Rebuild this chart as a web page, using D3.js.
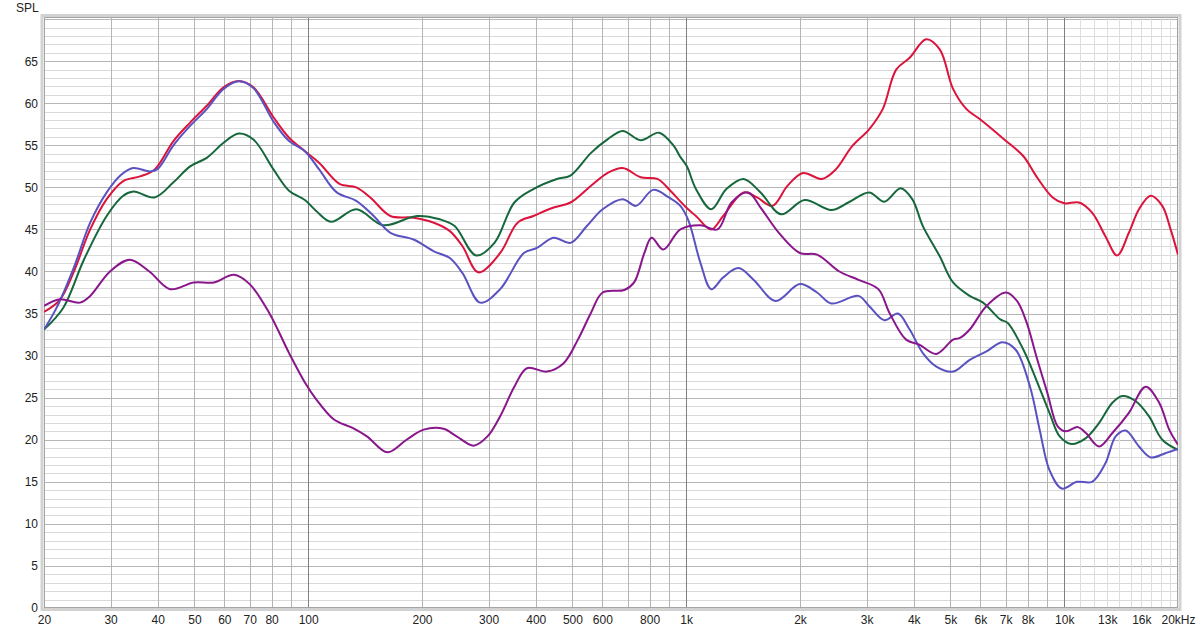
<!DOCTYPE html>
<html>
<head>
<meta charset="utf-8">
<script src="https://cdn.jsdelivr.net/npm/d3@7"></script>
<style>
html,body{margin:0;padding:0;background:#fff;}
svg{display:block;}
text{font-family:"Liberation Sans",Arial,sans-serif;font-size:12px;fill:#222;}
</style>
</head>
<body>
<svg id="chart" width="1200" height="633"></svg>
<script>
// ---------- data ----------
const yTicks = [0,5,10,15,20,25,30,35,40,45,50,55,60,65];
const xTickValues = [20,30,40,50,60,70,80,100,200,300,400,500,600,800,1000,2000,3000,4000,5000,6000,7000,8000,10000,13000,16000,20000];
const xTickLabels = ["20","30","40","50","60","70","80","100","200","300","400","500","600","800","1k","2k","3k","4k","5k","6k","7k","8k","10k","13k","16k","20kHz"];
const xTickGrey = ["13k","16k"];

const redFreq = [20,22,23.9,26.5,29.3,32.4,35.9,39.2,44,48.7,53.9,59.7,65.5,71.6,81,89,98,107,121,134,146,165,190,215,237,256,282,322,358,394,446,494,560,619,679,758,839,908,962,1000,1061,1165,1253,1418,1540,1690,1855,2036,2287,2483,2748,3047,3310,3593,3901,4314,4685,5081,5513,5988,6940,7800,8440,9320,10000,10940,11850,12850,13800,14830,15770,16940,18170,19120,20000];
const redSpl  = [35.2,36.6,39.8,45,48.6,50.75,51.3,52.1,55.5,57.7,59.7,61.9,62.65,61.9,58.3,55.9,54.3,52.9,50.4,50,48.8,46.6,46.4,45.8,44.8,43,39.9,42.2,45.8,46.6,47.6,48.2,50.2,51.7,52.3,51.2,51,49.6,48.4,47.6,46.6,45,46.6,49.4,48.8,47.8,50.2,51.7,51,52.1,54.9,56.9,59.3,64,65.4,67.6,66.4,61.7,59.3,58.1,55.7,53.7,51.3,48.8,48.1,48.2,47,44.2,41.9,44.6,47.4,49,47.8,45,42];

const blueFreq = [20,21.6,24,26.5,29.3,32,34.4,38.2,40,44,48.7,53.9,59.7,65.5,71.6,81,89,98,107,119,134,149,165,190,215,237,256,285,322,372,403,446,494,546,601,679,737,817,900,965,1015,1091,1165,1253,1374,1509,1723,1998,2219,2421,2856,3047,3344,3630,3901,4227,4589,5081,5624,6230,6870,7440,8120,8610,9140,9860,10800,11850,12850,13680,14540,15770,16940,18520,20000];
const blueSpl  = [33.1,35.7,40.5,45.8,49.4,51.5,52.3,51.9,52.2,55,57.3,59.3,61.7,62.6,61.8,57.8,55.5,54.3,52.1,49.4,48.4,46.6,44.6,43.8,42.4,41.6,39.8,36.3,37.9,42.2,42.8,44,43.4,45.4,47.4,48.6,47.8,49.7,48.8,47.8,46,41,37.9,39.3,40.4,39,36.5,38.5,37.5,36.2,37.1,35.9,34.2,35,33.1,30.3,28.7,28.1,29.5,30.5,31.6,30.7,26.3,21.2,16.4,14.2,15,15,17.2,20.4,21.1,19.2,17.9,18.4,18.9];

const greenFreq = [20,22.5,25.5,29.3,32.4,34.5,39.2,44,48.7,53.9,59.7,65.5,71.6,81,89,98,105,115,134,158,194,223,244,278,311,351,394,455,494,560,619,679,758,847,928,962,1004,1061,1165,1277,1418,1573,1783,2056,2421,2684,3047,3344,3692,3963,4227,4685,5081,5624,6099,6775,7080,7800,8440,9140,9730,10440,11410,12370,13410,14260,15440,16750,18170,20000];
const greenSpl  = [33.1,35.7,41.4,46.6,49,49.5,48.8,50.6,52.5,53.5,55.3,56.4,55.7,52.1,49.6,48.5,47.2,45.9,47.4,45.5,46.6,46.2,45.4,41.9,43.4,48.2,49.8,51,51.4,54.1,55.7,56.7,55.6,56.5,54.9,53.7,52.5,49.8,47.4,49.8,51,49.4,46.8,48.5,47.3,48.2,49.4,48.3,49.9,48.6,45.4,41.8,38.7,37.1,36.3,34.3,33.9,30.7,27.1,23.2,20.4,19.5,20.2,22,24.4,25.2,24.6,22.8,20,18.8];

const purpleFreq = [20,22,24.9,26.5,29.9,33.7,38,43.1,49.8,56.3,63.6,70,78.8,89,98,105,117,131,143,162,182,202,228,247,274,298,322,351,379,428,474,517,560,601,686,728,775,810,870,965,1091,1210,1318,1458,1573,1758,1998,2219,2542,2856,3223,3447,3817,4137,4589,5081,5300,5624,6230,7010,7500,7960,8440,9020,9610,10100,10870,11410,12370,13410,14830,16420,17830,18960,20000];
const purpleSpl  = [35.9,36.7,36.3,37.1,40,41.4,40,37.9,38.7,38.7,39.6,38.5,35.1,30.3,26.8,24.8,22.4,21.4,20.4,18.5,20,21.2,21.3,20.4,19.3,20.4,22.8,26.3,28.5,28.1,29.1,31.9,35.1,37.5,37.8,38.7,42.2,44,42.6,45,45.5,45,48.2,49.4,47.6,44.6,42.2,42,40,39,37.9,35.1,31.9,31.3,30.2,31.9,32.1,33.1,35.9,37.5,36.5,33.9,29.9,25.6,21.6,21,21.5,20.8,19.2,20.8,23.2,26.3,24.4,21.2,19.4];

const seriesColors = ["#dc143c","#5a52c0","#16683c","#8a168c"];

// ---------- layout ----------
const svg = d3.select("#chart");
const pL = 44, pR = 1178, pT = 17, pB = 608;
const x = d3.scaleLog().domain([20,20000]).range([pL,pR]);
const y = d3.scaleLinear().domain([0,70.25]).range([pB,pT]);

// frame shadow
svg.append("rect").attr("x",pL-2).attr("y",pT-1.5).attr("width",pR-pL+4).attr("height",pB-pT+3)
  .attr("fill","none").attr("stroke","#d2d2d2").attr("stroke-width",3);
svg.append("rect").attr("x",pL).attr("y",pT).attr("width",pR-pL).attr("height",pB-pT).attr("fill","#fff");

// horizontal grid (1 dB)
const hLines = d3.range(1,71);
svg.append("g").selectAll("line").data(hLines).join("line")
  .attr("x1",pL).attr("x2",pR)
  .attr("y1",d=>Math.round(y(d))+0.5).attr("y2",d=>Math.round(y(d))+0.5)
  .attr("stroke",d=>d%5===0?"#b6b6b6":"#d9d9d9").attr("stroke-width",1);

// vertical grid
const vLines = [];
[10,100,1000].forEach(dec=>{ for(let m=2;m<10;m++){ const f=dec*m; if(f>20) vLines.push({f,type:"minor"}); }});
vLines.push({f:100,type:"major"},{f:1000,type:"major"},{f:10000,type:"major"});
for(let k=11;k<20;k++) vLines.push({f:k*1000,type:"hf"});
svg.append("g").selectAll("line").data(vLines).join("line")
  .attr("x1",d=>Math.round(x(d.f))+0.5).attr("x2",d=>Math.round(x(d.f))+0.5)
  .attr("y1",pT).attr("y2",pB)
  .attr("stroke",d=>d.type==="major"?"#808080":d.type==="hf"?"#dedede":"#b4b4b4").attr("stroke-width",1);

// frame border
svg.append("rect").attr("x",pL+0.5).attr("y",pT+0.5).attr("width",pR-pL-1).attr("height",pB-pT-1)
  .attr("fill","none").attr("stroke","#a4a4a4").attr("stroke-width",1);

// axes labels
const yAxis = d3.axisLeft(y).tickValues(yTicks).tickSize(0).tickPadding(6);
const gy = svg.append("g").attr("transform",`translate(${pL},0)`).call(yAxis);
gy.select(".domain").remove();
gy.selectAll("text").style("font-family","'Liberation Sans',Arial,sans-serif").style("font-size","12px").attr("fill","#222");

const xAxis = d3.axisBottom(x).tickValues(xTickValues).tickSize(0).tickPadding(7)
  .tickFormat((d,i)=>xTickLabels[i]);
const gx = svg.append("g").attr("transform",`translate(0,${pB})`).call(xAxis);
gx.select(".domain").remove();
gx.selectAll("text").style("font-family","'Liberation Sans',Arial,sans-serif").style("font-size","12px")
  .attr("fill",(d,i)=>xTickGrey.includes(xTickLabels[i])?"#a8a8a8":"#222");

svg.append("text").attr("x",16).attr("y",12).text("SPL");

// curves
const series = [
  {f:redFreq,v:redSpl,c:seriesColors[0]},
  {f:greenFreq,v:greenSpl,c:seriesColors[2]},
  {f:blueFreq,v:blueSpl,c:seriesColors[1]},
  {f:purpleFreq,v:purpleSpl,c:seriesColors[3]}
];
const line = d3.line().x(d=>x(d[0])).y(d=>y(d[1])).curve(d3.curveCatmullRom.alpha(0.5));
svg.append("clipPath").attr("id","plotclip").append("rect")
  .attr("x",pL).attr("y",pT).attr("width",pR-pL).attr("height",pB-pT);
svg.append("g").attr("clip-path","url(#plotclip)").selectAll("path").data(series).join("path")
  .attr("d",s=>line(s.f.map((f,i)=>[f,s.v[i]])))
  .attr("fill","none").attr("stroke",s=>s.c).attr("stroke-width",2).attr("stroke-linejoin","round");
</script>
</body>
</html>
